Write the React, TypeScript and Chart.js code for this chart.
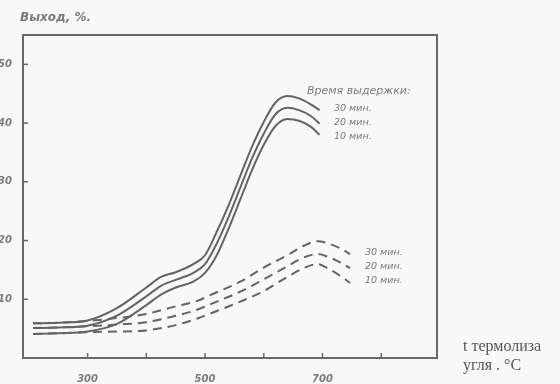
import React, { useEffect, useRef } from "react";
import { Chart, registerables } from "chart.js";
Chart.register(...registerables);

// Temperature (°C) sample points
const tempSolid = [207, 250, 300, 350, 400, 425, 450, 480, 500, 520, 540, 560, 580, 600, 620, 640, 660, 680, 695];
const tempDashed = [207, 250, 300, 350, 400, 450, 483, 520, 560, 600, 640, 670, 692, 710, 730, 747];

// Yield (%) – solid curves
const solid30 = [5.9, 6.0, 6.4, 8.5, 12.0, 13.8, 14.6, 16.0, 17.5, 21.5, 26.0, 31.0, 36.0, 40.2, 43.5, 44.6, 44.2, 43.2, 42.2];
const solid20 = [5.1, 5.2, 5.5, 7.2, 10.5, 12.3, 13.3, 14.5, 16.0, 19.5, 24.0, 29.0, 34.0, 38.2, 41.5, 42.6, 42.2, 41.2, 39.9];
const solid10 = [4.1, 4.2, 4.5, 5.8, 9.0, 10.8, 12.0, 13.0, 14.5, 17.5, 22.0, 27.0, 32.0, 36.3, 39.5, 40.7, 40.4, 39.4, 38.0];

// Yield (%) – dashed curves
const dashed30 = [5.9, 6.0, 6.3, 6.8, 7.5, 8.8, 9.6, 11.2, 13.0, 15.4, 17.5, 19.2, 19.9, 19.5, 18.7, 17.7];
const dashed20 = [5.1, 5.2, 5.4, 5.7, 6.1, 7.2, 8.1, 9.6, 11.3, 13.4, 15.6, 17.2, 17.7, 17.2, 16.3, 15.3];
const dashed10 = [4.1, 4.2, 4.4, 4.5, 4.7, 5.6, 6.6, 8.0, 9.6, 11.4, 13.8, 15.4, 16.0, 15.2, 14.0, 12.8];

// Axis ticks
const xTickMarks = [300, 400, 500, 600, 700, 800];
const xTickLabels = [300, 500, 700];
const yTicks = [10, 20, 30, 40, 50];

const yTitle = "Выход, %.";
const legendTitle = "Время выдержки:";
const legendLabels = ["30 мин.", "20 мин.", "10 мин."];
const xTitle1 = "t термолиза";
const xTitle2 = "угля . °C";

export default function App() {
  const ref = useRef<HTMLCanvasElement>(null);

  useEffect(() => {
    document.body.style.margin = "0";
    const canvas = ref.current!;
    const lineColor = "#646464";
    const textColor = "#7a7a7a";

    const mk = (xs: number[], ys: number[], dashed: boolean, label: string) => ({
      label,
      data: xs.map((x, i) => ({ x, y: ys[i] })),
      borderColor: lineColor,
      borderWidth: 2,
      borderDash: dashed ? [9, 6] : [],
      pointRadius: 0,
      cubicInterpolationMode: "monotone" as const,
      fill: false,
    });

    const overlay = {
      id: "overlay",
      afterDraw(chart: any) {
        const { ctx, chartArea, scales } = chart;
        const xs = scales.x;
        const ys = scales.y;
        ctx.save();
        // frame
        ctx.strokeStyle = "#686868";
        ctx.lineWidth = 2;
        ctx.strokeRect(chartArea.left, chartArea.top, chartArea.right - chartArea.left, chartArea.bottom - chartArea.top);
        // inward ticks
        ctx.lineWidth = 1.5;
        xTickMarks.forEach((v) => {
          const px = xs.getPixelForValue(v);
          ctx.beginPath();
          ctx.moveTo(px, chartArea.bottom);
          ctx.lineTo(px, chartArea.bottom - 5);
          ctx.stroke();
        });
        yTicks.forEach((v) => {
          const py = ys.getPixelForValue(v);
          ctx.beginPath();
          ctx.moveTo(chartArea.left, py);
          ctx.lineTo(chartArea.left + 5, py);
          ctx.stroke();
        });
        // texts
        ctx.fillStyle = textColor;
        ctx.textBaseline = "middle";
        ctx.textAlign = "left";
        ctx.font = "italic bold 12px 'DejaVu Sans'";
        ctx.fillText(yTitle, 20, 18);
        ctx.font = "italic 11px 'DejaVu Sans'";
        ctx.fillText(legendTitle, 307, 91);
        ctx.font = "italic 9.5px 'DejaVu Sans'";
        const solidY = [109, 123, 137];
        legendLabels.forEach((t, i) => ctx.fillText(t, 334, solidY[i]));
        const dashY = [253, 267, 281];
        legendLabels.forEach((t, i) => ctx.fillText(t, 365, dashY[i]));
        ctx.fillStyle = "#555";
        ctx.font = "16px 'Liberation Serif'";
        ctx.fillText(xTitle1, 463, 347);
        ctx.fillText(xTitle2, 463, 366);
        ctx.restore();
      },
    };

    const chart = new Chart(canvas, {
      type: "line",
      data: {
        datasets: [
          mk(tempSolid, solid30, false, "30 мин."),
          mk(tempSolid, solid20, false, "20 мин."),
          mk(tempSolid, solid10, false, "10 мин."),
          mk(tempDashed, dashed30, true, "30 мин. (пунктир)"),
          mk(tempDashed, dashed20, true, "20 мин. (пунктир)"),
          mk(tempDashed, dashed10, true, "10 мин. (пунктир)"),
        ],
      },
      options: {
        responsive: false,
        animation: false,
        layout: { padding: { left: 0, top: 35, right: 123, bottom: 0 } },
        plugins: { legend: { display: false }, tooltip: { enabled: false } },
        scales: {
          x: {
            type: "linear",
            min: 190,
            max: 895,
            afterFit: (s: any) => {
              s.height = 26;
            },
            afterBuildTicks: (s: any) => {
              s.ticks = xTickLabels.map((v) => ({ value: v }));
            },
            grid: { display: false, drawTicks: false },
            border: { display: false },
            ticks: {
              autoSkip: false,
              maxRotation: 0,
              padding: 15,
              color: textColor,
              font: { family: "DejaVu Sans", size: 10, style: "italic", weight: "bold" },
              callback: (v: any) => String(v),
            },
          },
          y: {
            min: 0,
            max: 55,
            afterFit: (s: any) => {
              s.width = 23;
            },
            afterBuildTicks: (s: any) => {
              s.ticks = yTicks.map((v) => ({ value: v }));
            },
            grid: { display: false, drawTicks: false },
            border: { display: false },
            ticks: {
              padding: 11,
              color: textColor,
              font: { family: "DejaVu Sans", size: 10, style: "italic", weight: "bold" },
              callback: (v: any) => String(v),
            },
          },
        },
      },
      plugins: [overlay],
    });
    return () => chart.destroy();
  }, []);

  return (
    <div style={{ position: "absolute", left: 0, top: 0, width: 560, height: 384, background: "#f8f8f6" }}>
      <canvas ref={ref} width={560} height={384} style={{ display: "block" }} />
    </div>
  );
}
